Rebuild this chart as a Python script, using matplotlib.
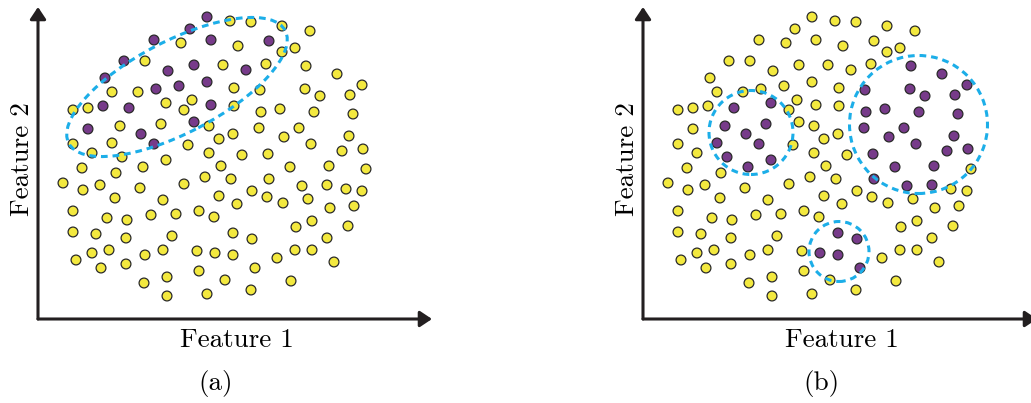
import matplotlib.pyplot as plt
from matplotlib.patches import Ellipse, Circle

# Sample positions (Feature 1, Feature 2), shared by both panels
feature_1 = [169, 152, 116, 173, 231, 86, 156, 130, 208, 67, 169, 118, 141, 65, 91, 173, 50, 156, 103, 116,
             192, 143, 107, 185, 196, 74, 100, 35, 50, 128, 154, 146, 82, 123, 171, 181, 195, 35, 74, 150,
             54, 84, 128, 171, 213, 244, 272, 200, 257, 244, 228, 268, 299, 324, 222, 267, 282, 312, 196, 223,
             242, 276, 315, 221, 261, 246, 273, 311, 204, 230, 304, 325, 44, 78, 105, 183, 25, 45, 62, 102,
             146, 167, 193, 77, 125, 181, 35, 69, 89, 113, 138, 161, 176, 35, 58, 88, 134, 195, 38, 54,
             71, 107, 125, 159, 177, 195, 63, 88, 106, 129, 161, 187, 129, 169, 252, 291, 328, 231, 264, 289,
             308, 324, 199, 214, 229, 245, 270, 292, 316, 274, 258, 310, 214, 289, 239, 257, 274, 296, 217, 213,
             253]
feature_2 = [302, 290, 279, 279, 278, 258, 254, 248, 249, 241, 237, 230, 233, 213, 211, 214, 190, 197, 185, 175,
             298, 276, 258, 254, 231, 227, 227, 209, 211, 216, 219, 209, 193, 195, 193, 180, 185, 175, 176, 174,
             166, 162, 159, 166, 297, 293, 288, 273, 271, 267, 255, 253, 245, 234, 229, 230, 223, 224, 213, 207,
             210, 207, 205, 191, 191, 182, 175, 183, 164, 165, 168, 170, 151, 146, 152, 153, 136, 129, 134, 131,
             135, 142, 140, 121, 119, 123, 108, 101, 99, 104, 105, 108, 102, 87, 85, 81, 83, 86, 59, 66,
             69, 64, 69, 68, 66, 64, 51, 55, 36, 42, 48, 39, 23, 25, 152, 153, 150, 140, 133, 134,
             130, 128, 115, 128, 122, 116, 120, 111, 113, 98, 92, 93, 80, 81, 61, 69, 69, 57, 51, 29,
             38]

# (a): one elongated group along a diagonal band
group_a = [1] * 20 + [0] * 121

# (b): three compact groups
group_b = [0] * 141
for i in [14, 18, 19, 29, 32, 33, 38, 41, 42, 74,            # left group
          51, 52, 53, 54, 55, 56, 57, 59, 60, 61, 62, 63,     # right group
          64, 65, 66, 67, 69, 70, 71, 114, 115, 117, 118, 119,
          97, 104, 105, 132, 138]:                            # bottom group
    group_b[i] = 1

yellow = "#F3E93F"
purple = "#773B8A"
edge = "#2a2a2a"
cyan = "#1CAEE8"
dash = (0, (2.2, 1.6))
label_font = "cmr10"

fig = plt.figure(figsize=(10.31, 4.03), dpi=100)


def draw_panel(left, groups, letter):
    ax = fig.add_axes([left / 1031, 84 / 403, 394 / 1031, 312 / 403])
    ax.set_xlim(0, 394)
    ax.set_ylim(0, 312)
    ax.axis("off")

    colors = [purple if g else yellow for g in groups]
    ax.scatter(feature_1, feature_2, s=50, c=colors, edgecolors=edge,
               linewidths=0.9, zorder=2, clip_on=False)

    head = "-|>,head_length=0.45,head_width=0.3"
    ax.annotate("", xy=(1, 0), xytext=(0, 0), xycoords="axes fraction",
                arrowprops=dict(arrowstyle=head, lw=2.2, color="#231f20",
                                mutation_scale=16, shrinkA=0, shrinkB=0))
    ax.annotate("", xy=(0, 1), xytext=(0, 0), xycoords="axes fraction",
                arrowprops=dict(arrowstyle=head, lw=2.2, color="#231f20",
                                mutation_scale=16, shrinkA=0, shrinkB=0))

    ax.text(199, -28, "Feature 1", ha="center", va="baseline",
            fontsize=19.5, family=label_font, clip_on=False)
    ax.text(-16, 160, "Feature 2", ha="center", va="center", rotation=90,
            fontsize=19.5, family=label_font, clip_on=False)
    ax.text(178, -71, letter, ha="center", va="baseline",
            fontsize=19.5, family=label_font, clip_on=False)
    return ax


ax_a = draw_panel(38, group_a, "(a)")
ax_a.add_patch(Ellipse((139, 232), 244, 92, angle=27.5, fill=False,
                       ec=cyan, lw=2.2, ls=dash, zorder=3))

ax_b = draw_panel(643, group_b, "(b)")
for cx, cy, r in [(108, 186.5, 42), (275.5, 194.5, 69), (196, 67.5, 30)]:
    ax_b.add_patch(Circle((cx, cy), r, fill=False, ec=cyan, lw=2.2,
                          ls=dash, zorder=3))

fig.savefig("out.png", dpi=100)
